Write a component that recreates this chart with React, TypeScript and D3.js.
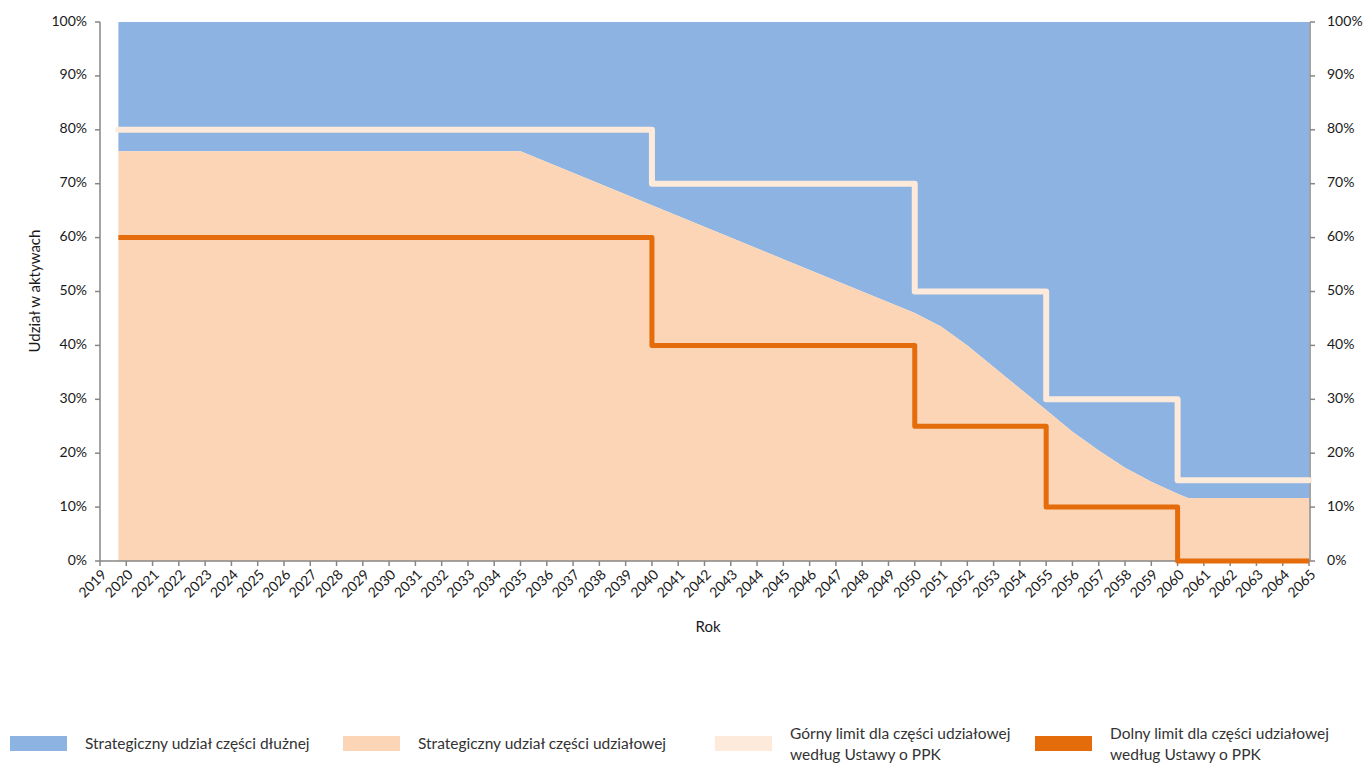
import React from 'react';
import * as d3 from 'd3';

// equity share of the strategic allocation (percent)
const equityYears = [2019.7, 2035, 2040, 2045, 2050, 2051, 2052, 2053, 2054, 2055, 2056, 2057, 2058, 2059, 2060, 2060.4, 2065];
const equityShare = [76, 76, 66, 56, 46, 43.5, 40, 36, 32, 28, 24, 20.5, 17.3, 14.7, 12.5, 11.7, 11.7];

// statutory limits (PPK act), step changes
const limitYears = [2019.7, 2040, 2050, 2055, 2060, 2065];
const upperLimit = [80, 70, 50, 30, 15, 15];
const lowerLimit = [60, 40, 25, 10, 0, 0];

const yearTicks = d3.range(2019, 2066);
const pctTicks = [0, 10, 20, 30, 40, 50, 60, 70, 80, 90, 100];

const legendItems = [
  { lines: ['Strategiczny udział części dłużnej'], color: '#8db3e2', x: 10 },
  { lines: ['Strategiczny udział części udziałowej'], color: '#fbd5b5', x: 343 },
  { lines: ['Górny limit dla części udziałowej', 'według Ustawy o PPK'], color: '#fdeada', x: 715 },
  { lines: ['Dolny limit dla części udziałowej', 'według Ustawy o PPK'], color: '#e46c0a', x: 1035 },
];

const W = 1366;
const H = 763;
const FONT = 'Lato, "Open Sans", sans-serif';
const AXIS = '#868686';

export default function App() {
  const x = d3.scaleLinear().domain([2019, 2065]).range([100, 1309]);
  const y = d3.scaleLinear().domain([0, 100]).range([561, 22]);

  const eq = equityYears.map((yr, i) => ({ yr, v: equityShare[i] }));
  const up = limitYears.map((yr, i) => ({ yr, v: upperLimit[i] }));
  const lo = limitYears.map((yr, i) => ({ yr, v: lowerLimit[i] }));

  const debtArea = d3.area<{ yr: number; v: number }>()
    .x(d => x(d.yr)).y0(d => y(d.v)).y1(() => y(100));
  const equityArea = d3.area<{ yr: number; v: number }>()
    .x(d => x(d.yr)).y0(y(0)).y1(d => y(d.v));
  const stepLine = d3.line<{ yr: number; v: number }>()
    .x(d => x(d.yr)).y(d => y(d.v)).curve(d3.curveStepAfter);

  return (
    <svg width={W} height={H} style={{ position: 'absolute', left: 0, top: 0, background: '#fff' }}>
      <path d={debtArea(eq) ?? ''} fill="#8db3e2" />
      <path d={equityArea(eq) ?? ''} fill="#fbd5b5" />

      {/* axes */}
      <line x1={100} x2={100} y1={y(100)} y2={y(0)} stroke={AXIS} strokeWidth={1.5} />
      <line x1={1310} x2={1310} y1={y(100)} y2={y(0)} stroke={AXIS} strokeWidth={1.5} />
      <line x1={100} x2={1310} y1={y(0)} y2={y(0)} stroke={AXIS} strokeWidth={1.5} />

      {pctTicks.map(t => (
        <g key={t}>
          <line x1={95} x2={100} y1={y(t)} y2={y(t)} stroke={AXIS} strokeWidth={1.5} />
          <line x1={1310} x2={1315} y1={y(t)} y2={y(t)} stroke={AXIS} strokeWidth={1.5} />
          <text x={87} y={y(t)} textAnchor="end" dominantBaseline="middle" fontSize={14} fill="#1a1a1a" fontFamily={FONT}>{t}%</text>
          <text x={1327} y={y(t)} textAnchor="start" dominantBaseline="middle" fontSize={14} fill="#1a1a1a" fontFamily={FONT}>{t}%</text>
        </g>
      ))}

      {yearTicks.map(t => (
        <g key={t}>
          <line x1={x(t)} x2={x(t)} y1={y(0)} y2={y(0) + 5} stroke={AXIS} strokeWidth={1.5} />
          <text transform={`translate(${x(t) + 5},${y(0) + 12}) rotate(-45)`} textAnchor="end" dominantBaseline="middle"
            fontSize={14} fill="#1a1a1a" fontFamily={FONT}>{t}</text>
        </g>
      ))}

      {/* limit lines */}
      <path d={stepLine(up) ?? ''} fill="none" stroke="#fdeada" strokeWidth={6} strokeLinejoin="round" strokeLinecap="round" />
      <path d={stepLine(lo) ?? ''} fill="none" stroke="#e46c0a" strokeWidth={5} strokeLinejoin="round" />

      {/* axis titles */}
      <text transform="translate(36,291) rotate(-90)" textAnchor="middle" dominantBaseline="middle" fontSize={15} fill="#1a1a1a" fontFamily={FONT}>Udział w aktywach</text>
      <text x={708} y={628} textAnchor="middle" dominantBaseline="middle" fontSize={15} fill="#1a1a1a" fontFamily={FONT}>Rok</text>

      {/* legend */}
      {legendItems.map(it => (
        <g key={it.lines[0]}>
          <rect x={it.x} y={736} width={57} height={15} fill={it.color} />
          {it.lines.map((ln, i) => (
            <text key={i} x={it.x + 75} y={it.lines.length === 1 ? 745 : 735 + i * 21} dominantBaseline="middle"
              fontSize={15.5} fill="#333" fontFamily={FONT}>{ln}</text>
          ))}
        </g>
      ))}
    </svg>
  );
}
